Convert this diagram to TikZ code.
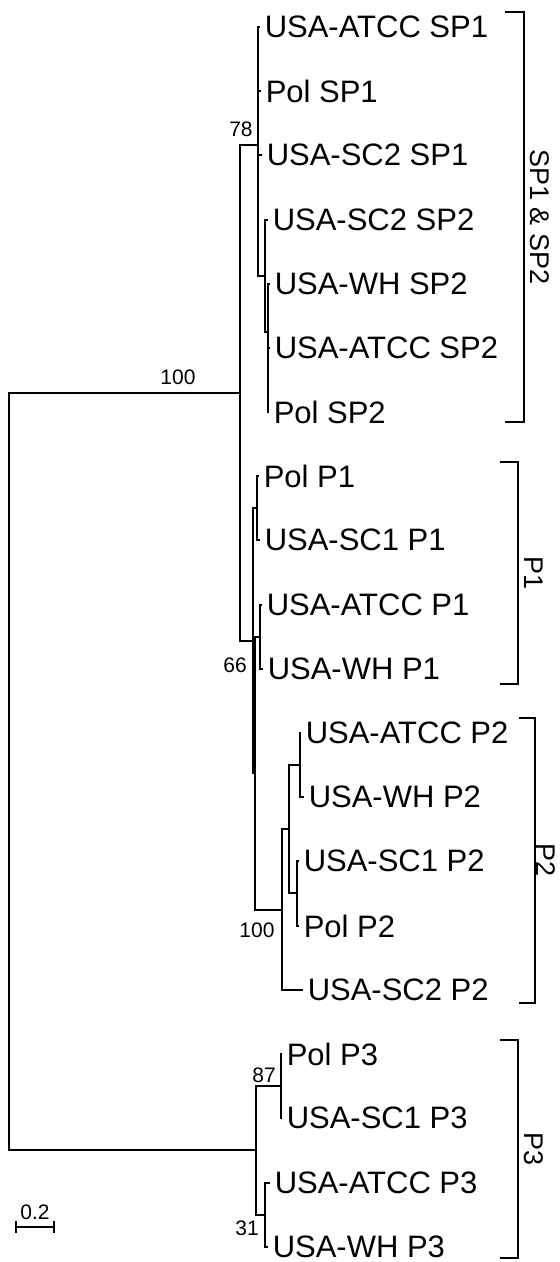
\documentclass[tikz,border=0pt]{standalone}
\usepackage{fontspec}
\setmainfont{Liberation Sans}
\usetikzlibrary{positioning}
\begin{document}
\begin{tikzpicture}[
  x=0.5pt, y=-0.5pt,
  line width=0.75pt,
  taxon/.style={anchor=west,inner sep=2pt,font=\fontsize{15.5}{18}\selectfont},
  boot/.style={inner sep=0pt,font=\fontsize{10.5}{12}\selectfont},
  grp/.style={inner sep=0pt,rotate=-90,font=\fontsize{13.5}{16}\selectfont}
]
  \useasboundingbox (0,0) rectangle (560,1262);

  % internal nodes
  \coordinate (root) at (9,772);
  \coordinate (nA)   at (240,393);
  \coordinate (n78)  at (258,145);
  \coordinate (nS)   at (265,276);
  \coordinate (nT)   at (268,332);
  \coordinate (nC)   at (253,641);
  \coordinate (nP1)  at (257,508);
  \coordinate (nD)   at (255,773);
  \coordinate (nE)   at (260,637);
  \coordinate (nP2)  at (282,910);
  \coordinate (nQ)   at (289,829);
  \coordinate (nR)   at (300,765);
  \coordinate (nU)   at (297,893);
  \coordinate (nP3)  at (256,1150);
  \coordinate (nF)   at (281,1086);
  \coordinate (nG)   at (265,1215);

  % taxa
  \node[taxon] (atccSP1) at (260,27)   {USA-ATCC SP1};
  \node[taxon] (polSP1)  at (261,91)   {Pol SP1};
  \node[taxon] (sc2SP1)  at (262,155)  {USA-SC2 SP1};
  \node[taxon] (sc2SP2)  at (268,220)  {USA-SC2 SP2};
  \node[taxon] (whSP2)   at (270,284)  {USA-WH SP2};
  \node[taxon] (atccSP2) at (270,348)  {USA-ATCC SP2};
  \node[taxon] (polSP2)  at (269,412)  {Pol SP2};
  \node[taxon] (polP1)   at (259,476)  {Pol P1};
  \node[taxon] (sc1P1)   at (260,540)  {USA-SC1 P1};
  \node[taxon] (atccP1)  at (262,605)  {USA-ATCC P1};
  \node[taxon] (whP1)    at (263,669)  {USA-WH P1};
  \node[taxon] (atccP2)  at (301,733)  {USA-ATCC P2};
  \node[taxon] (whP2)    at (304,797)  {USA-WH P2};
  \node[taxon] (sc1P2)   at (299,861)  {USA-SC1 P2};
  \node[taxon] (polP2)   at (299,926)  {Pol P2};
  \node[taxon] (sc2P2)   at (303,990)  {USA-SC2 P2};
  \node[taxon] (polP3)   at (282,1054) {Pol P3};
  \node[taxon] (sc1P3)   at (282,1118) {USA-SC1 P3};
  \node[taxon] (atccP3)  at (270,1183) {USA-ATCC P3};
  \node[taxon] (whP3)    at (268,1247) {USA-WH P3};

  % branches
  \draw (root) |- (nA) (root) |- (nP3);
  \draw (nA) |- (n78) (nA) |- (nC);
  \draw (n78) |- (atccSP1.west) (n78) |- (polSP1.west) (n78) |- (sc2SP1.west) (n78) |- (nS);
  \draw (nS) |- (sc2SP2.west) (nS) |- (nT);
  \draw (nT) |- (whSP2.west) (nT) |- (atccSP2.west) (nT) |- (polSP2.west);
  \draw (nC) |- (nP1) (nC) |- (nD);
  \draw (nP1) |- (polP1.west) (nP1) |- (sc1P1.west);
  \draw (nD) |- (nE) (nD) |- (nP2);
  \draw (nE) |- (atccP1.west) (nE) |- (whP1.west);
  \draw (nP2) |- (nQ) (nP2) |- (sc2P2.west);
  \draw (nQ) |- (nR) (nQ) |- (nU);
  \draw (nR) |- (atccP2.west) (nR) |- (whP2.west);
  \draw (nU) |- (sc1P2.west) (nU) |- (polP2.west);
  \draw (nP3) |- (nF) (nP3) |- (nG);
  \draw (nF) |- (polP3.west) (nF) |- (sc1P3.west);
  \draw (nG) |- (atccP3.west) (nG) |- (whP3.west);

  % bootstrap values
  \node[boot] (b100a) at (178,377)  {100};
  \node[boot] (b78)   at (241,129)  {78};
  \node[boot] (b66)   at (235,665)  {66};
  \node[boot] (b100b) at (257,930)  {100};
  \node[boot] (b87)   at (264,1075) {87};
  \node[boot] (b31)   at (247,1228) {31};

  % groups
  \draw (505,12) -| (524,422) -- (505,422);
  \node[grp] (gSP) at (540,217) {SP1 \& SP2};
  \draw (500,462) -| (518,684) -- (500,684);
  \node[grp] (gP1) at (534,573) {P1};
  \draw (519,718) -| (535,1003) -- (519,1003);
  \node[grp] (gP2) at (546,860) {P2};
  \draw (500,1040) -| (518,1258) -- (500,1258);
  \node[grp] (gP3) at (534,1149) {P3};

  % scale bar
  \coordinate (sbl) at (16,1227);
  \coordinate (sbr) at (54,1227);
  \draw (sbl) -- (sbr);
  \draw ([yshift=3pt]sbl) -- ([yshift=-3pt]sbl) ([yshift=3pt]sbr) -- ([yshift=-3pt]sbr);
  \node[boot] (sblab) at (35,1212) {0.2};
\end{tikzpicture}
\end{document}
